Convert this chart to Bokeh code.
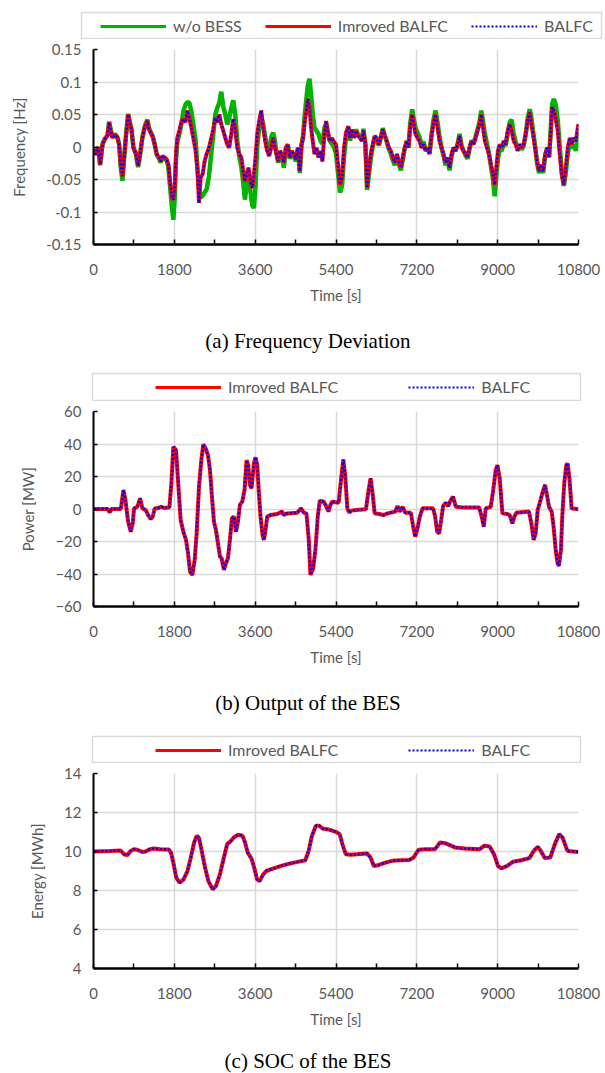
from bokeh.plotting import figure
from bokeh.models import Legend, LegendItem, FixedTicker, Range1d, Div
from bokeh.layouts import column, row
from bokeh.embed import file_html
from bokeh.resources import INLINE

FONT = "Lato"
GRAY = "#595959"
GRID = "#d9d9d9"
GREEN = "#00b400"
RED = "#ff0000"
BLUE = "#0000ff"

# ---------------- data ----------------
x_ticks = [0, 1800, 3600, 5400, 7200, 9000, 10800]
x_minor = [900, 2700, 4500, 6300, 8100, 9900]

freq_ticks = [-0.15, -0.1, -0.05, 0, 0.05, 0.1, 0.15]
freq_tick_labels = ["-0.15", "-0.1", "-0.05", "0", "0.05", "0.1", "0.15"]
power_ticks = [-60, -40, -20, 0, 20, 40, 60]
soc_ticks = [4, 6, 8, 10, 12, 14]

series_labels = ["w/o BESS", "Imroved BALFC", "BALFC"]
captions = ["(a) Frequency Deviation", "(b) Output of the BES", "(c) SOC of the BES"]

t_freq = [
    0, 52, 104, 148, 200, 252, 311, 348, 385, 422,
    474, 534, 571, 608, 645, 682, 719, 771, 815, 845,
    889, 941, 993, 1037, 1089, 1141, 1200, 1237, 1275, 1326,
    1363, 1408, 1460, 1497, 1534, 1586, 1630, 1667, 1704, 1749,
    1778, 1808, 1838, 1867, 1912, 1956, 2001, 2053, 2090, 2134,
    2179, 2223, 2275, 2312, 2349, 2386, 2430, 2475, 2519, 2571,
    2623, 2668, 2712, 2756, 2801, 2845, 2890, 2934, 2979, 3023,
    3068, 3112, 3157, 3201, 3246, 3290, 3335, 3372, 3409, 3453,
    3498, 3535, 3572, 3609, 3646, 3690, 3735, 3779, 3824, 3868,
    3912, 3957, 4001, 4038, 4076, 4113, 4150, 4194, 4239, 4283,
    4327, 4372, 4416, 4461, 4505, 4550, 4594, 4631, 4668, 4705,
    4742, 4772, 4809, 4846, 4883, 4920, 4965, 5009, 5054, 5098,
    5143, 5180, 5217, 5261, 5306, 5355, 5400, 5445, 5489, 5534,
    5579, 5623, 5675, 5712, 5757, 5802, 5846, 5891, 5936, 5980,
    6010, 6055, 6092, 6129, 6174, 6218, 6263, 6307, 6352, 6397,
    6441, 6486, 6531, 6575, 6620, 6664, 6709, 6754, 6798, 6843,
    6888, 6932, 6977, 7014, 7051, 7096, 7126, 7170, 7215, 7260,
    7304, 7349, 7393, 7438, 7483, 7527, 7572, 7617, 7661, 7706,
    7750, 7795, 7840, 7884, 7929, 7974, 8018, 8063, 8107, 8152,
    8197, 8241, 8286, 8331, 8375, 8420, 8464, 8509, 8554, 8598,
    8636, 8673, 8717, 8762, 8807, 8851, 8896, 8933, 8970, 9007,
    9045, 9089, 9134, 9178, 9223, 9268, 9312, 9357, 9402, 9446,
    9491, 9536, 9580, 9625, 9669, 9714, 9751, 9788, 9833, 9878,
    9922, 9967, 10012, 10056, 10101, 10145, 10175, 10212, 10250, 10294,
    10339, 10383, 10428, 10473, 10517, 10562, 10607, 10651, 10696, 10741,
    10785, 10800,
]

freq_improved = [
    -0.004, -0.011, 0.000, -0.027, 0.004, 0.012, 0.017, 0.038, 0.025, 0.014,
    0.019, 0.014, 0.004, -0.029, -0.045, -0.016, 0.014, 0.050, 0.035, 0.027,
    -0.001, -0.009, -0.029, -0.011, 0.014, 0.030, 0.040, 0.027, 0.022, 0.014,
    0.004, -0.011, -0.016, -0.022, -0.014, -0.016, -0.019, -0.027, -0.053, -0.078,
    -0.081, -0.063, -0.011, 0.014, 0.025, 0.038, 0.043, 0.038, 0.056, 0.045,
    0.030, 0.014, -0.006, -0.032, -0.086, -0.047, -0.042, -0.022, -0.011, -0.001,
    0.014, 0.027, 0.045, 0.038, 0.050, 0.035, 0.025, 0.014, 0.004, -0.001,
    0.020, 0.043, 0.027, -0.001, -0.011, -0.016, -0.037, -0.053, -0.042, -0.032,
    -0.053, -0.063, -0.042, -0.016, 0.020, 0.040, 0.056, 0.030, 0.009, -0.006,
    -0.014, -0.001, 0.014, -0.001, -0.011, -0.022, -0.006, -0.011, -0.024, -0.001,
    0.004, -0.016, -0.006, -0.011, -0.019, -0.001, -0.037, 0.004, 0.014, 0.040,
    0.056, 0.074, 0.061, 0.030, 0.009, -0.011, -0.001, -0.016, -0.006, -0.022,
    0.020, 0.040, 0.025, 0.009, 0.014, 0.008, 0.004, -0.027, -0.058, -0.047,
    -0.001, 0.022, 0.032, 0.014, 0.027, 0.014, 0.025, 0.017, 0.014, 0.009,
    0.025, 0.004, -0.063, -0.037, -0.011, 0.004, 0.017, 0.014, 0.004, 0.014,
    0.027, 0.017, 0.009, -0.001, -0.006, -0.016, -0.024, -0.011, -0.022, -0.032,
    -0.016, -0.001, 0.009, -0.001, 0.030, 0.050, 0.038, 0.020, 0.014, 0.009,
    -0.001, 0.004, -0.006, -0.001, -0.011, 0.017, 0.038, 0.050, 0.030, 0.009,
    -0.001, -0.011, -0.024, -0.016, -0.032, -0.011, -0.001, -0.006, 0.004, 0.017,
    -0.001, -0.006, -0.011, -0.016, -0.001, 0.009, 0.004, 0.014, 0.025, 0.035,
    0.050, 0.030, 0.009, -0.001, -0.011, -0.027, -0.042, -0.058, -0.032, -0.006,
    0.004, -0.001, 0.009, 0.004, 0.025, 0.035, 0.025, 0.009, 0.004, -0.006,
    0.004, -0.001, 0.004, 0.020, 0.040, 0.053, 0.035, 0.020, -0.001, -0.022,
    -0.037, -0.027, -0.037, -0.011, -0.001, -0.016, 0.014, 0.061, 0.056, 0.043,
    0.025, -0.011, -0.042, -0.058, -0.032, -0.001, 0.014, 0.004, 0.014, 0.009,
    0.030, 0.035,
]

freq_balfc = [
    -0.004, -0.011, 0.000, -0.027, 0.004, 0.012, 0.017, 0.038, 0.025, 0.014,
    0.019, 0.014, 0.004, -0.029, -0.045, -0.016, 0.014, 0.050, 0.035, 0.027,
    -0.001, -0.009, -0.029, -0.011, 0.014, 0.030, 0.040, 0.027, 0.022, 0.014,
    0.004, -0.011, -0.016, -0.022, -0.014, -0.016, -0.019, -0.027, -0.053, -0.078,
    -0.081, -0.063, -0.011, 0.014, 0.025, 0.038, 0.043, 0.038, 0.056, 0.045,
    0.030, 0.014, -0.006, -0.032, -0.086, -0.047, -0.042, -0.022, -0.011, -0.001,
    0.014, 0.027, 0.045, 0.038, 0.050, 0.035, 0.025, 0.014, 0.004, -0.001,
    0.020, 0.043, 0.027, -0.001, -0.011, -0.016, -0.037, -0.053, -0.042, -0.032,
    -0.053, -0.063, -0.042, -0.016, 0.020, 0.040, 0.056, 0.030, 0.009, -0.006,
    -0.014, -0.001, 0.014, -0.001, -0.011, -0.022, -0.006, -0.011, -0.024, -0.001,
    0.004, -0.016, -0.006, -0.011, -0.019, -0.001, -0.037, 0.004, 0.014, 0.040,
    0.056, 0.074, 0.061, 0.030, 0.009, -0.011, -0.001, -0.016, -0.006, -0.022,
    0.020, 0.040, 0.025, 0.009, 0.014, 0.008, 0.004, -0.027, -0.058, -0.047,
    -0.001, 0.022, 0.032, 0.014, 0.027, 0.014, 0.025, 0.017, 0.014, 0.009,
    0.025, 0.004, -0.063, -0.037, -0.011, 0.004, 0.017, 0.014, 0.004, 0.014,
    0.027, 0.017, 0.009, -0.001, -0.006, -0.016, -0.024, -0.011, -0.022, -0.032,
    -0.016, -0.001, 0.009, -0.001, 0.030, 0.050, 0.038, 0.020, 0.014, 0.009,
    -0.001, 0.004, -0.006, -0.001, -0.011, 0.017, 0.038, 0.050, 0.030, 0.009,
    -0.001, -0.011, -0.024, -0.016, -0.032, -0.011, -0.001, -0.006, 0.004, 0.017,
    -0.001, -0.006, -0.011, -0.016, -0.001, 0.009, 0.004, 0.014, 0.025, 0.035,
    0.050, 0.030, 0.009, -0.001, -0.011, -0.027, -0.042, -0.058, -0.032, -0.006,
    0.004, -0.001, 0.009, 0.004, 0.025, 0.035, 0.025, 0.009, 0.004, -0.006,
    0.004, -0.001, 0.004, 0.020, 0.040, 0.053, 0.035, 0.020, -0.001, -0.022,
    -0.037, -0.027, -0.037, -0.011, -0.001, -0.016, 0.014, 0.061, 0.056, 0.043,
    0.025, -0.011, -0.042, -0.058, -0.032, -0.001, 0.014, 0.004, 0.014, 0.009,
    0.030, 0.035,
]

freq_wo_bess = [
    -0.005, -0.012, 0.000, -0.028, 0.004, 0.013, 0.018, 0.039, 0.026, 0.015,
    0.020, 0.015, 0.004, -0.032, -0.052, -0.018, 0.014, 0.051, 0.036, 0.028,
    -0.001, -0.010, -0.031, -0.012, 0.015, 0.032, 0.042, 0.029, 0.023, 0.015,
    0.004, -0.012, -0.018, -0.024, -0.016, -0.018, -0.021, -0.030, -0.060, -0.095,
    -0.112, -0.080, -0.020, 0.008, 0.020, 0.035, 0.055, 0.066, 0.069, 0.068,
    0.055, 0.035, 0.010, -0.030, -0.060, -0.078, -0.075, -0.070, -0.065, -0.045,
    -0.010, 0.020, 0.050, 0.060, 0.068, 0.085, 0.062, 0.050, 0.035, 0.045,
    0.060, 0.072, 0.050, 0.010, -0.015, -0.030, -0.055, -0.081, -0.060, -0.040,
    -0.070, -0.090, -0.094, -0.060, 0.000, 0.030, 0.045, 0.035, 0.015, -0.002,
    -0.010, 0.015, 0.022, 0.010, -0.010, -0.024, -0.008, -0.013, -0.032, -0.004,
    0.002, -0.018, -0.010, -0.014, -0.022, -0.004, -0.040, 0.002, 0.018, 0.050,
    0.075, 0.095, 0.105, 0.080, 0.050, 0.030, 0.025, 0.020, 0.010, 0.005,
    0.030, 0.035, 0.020, 0.010, 0.005, 0.000, -0.010, -0.040, -0.070, -0.060,
    -0.015, 0.015, 0.030, 0.010, 0.022, 0.016, 0.027, 0.019, 0.016, 0.010,
    0.028, 0.004, -0.066, -0.045, -0.018, 0.000, 0.016, 0.012, 0.002, 0.014,
    0.029, 0.018, 0.008, -0.003, -0.010, -0.020, -0.028, -0.014, -0.026, -0.036,
    -0.019, -0.002, 0.009, -0.001, 0.035, 0.058, 0.045, 0.030, 0.022, 0.015,
    0.004, 0.008, -0.004, -0.002, -0.010, 0.018, 0.042, 0.056, 0.038, 0.015,
    -0.001, -0.014, -0.028, -0.020, -0.036, -0.014, -0.002, -0.006, 0.004, 0.020,
    0.002, -0.006, -0.013, -0.018, -0.002, 0.010, 0.006, 0.016, 0.028, 0.040,
    0.056, 0.040, 0.020, 0.005, -0.010, -0.030, -0.050, -0.076, -0.045, -0.018,
    -0.004, -0.006, 0.004, 0.002, 0.020, 0.038, 0.042, 0.020, 0.008, -0.002,
    0.002, -0.004, 0.002, 0.020, 0.045, 0.058, 0.045, 0.025, 0.002, -0.025,
    -0.040, -0.030, -0.040, -0.015, -0.004, -0.015, 0.018, 0.066, 0.074, 0.065,
    0.040, 0.000, -0.040, -0.060, -0.040, -0.010, 0.006, -0.002, 0.004, -0.006,
    0.010, 0.020,
]

t_power = [
    0, 311, 363, 400, 608, 667, 711, 771, 830, 874,
    904, 978, 1037, 1089, 1163, 1215, 1275, 1319, 1363, 1423,
    1512, 1571, 1690, 1734, 1778, 1838, 1882, 1941, 2001, 2060,
    2104, 2149, 2201, 2253, 2297, 2349, 2401, 2445, 2497, 2549,
    2594, 2638, 2682, 2727, 2771, 2816, 2853, 2905, 2949, 2994,
    3038, 3083, 3127, 3172, 3216, 3260, 3312, 3364, 3409, 3446,
    3483, 3520, 3572, 3609, 3646, 3683, 3720, 3764, 3794, 3831,
    3868, 3942, 4090, 4201, 4239, 4313, 4535, 4624, 4683, 4742,
    4794, 4831, 4891, 4942, 4994, 5039, 5128, 5187, 5232, 5276,
    5313, 5459, 5511, 5563, 5607, 5652, 5696, 5741, 5845, 6067,
    6126, 6171, 6215, 6260, 6363, 6452, 6549, 6719, 6771, 6823,
    6882, 6941, 7067, 7119, 7164, 7215, 7267, 7327, 7564, 7608,
    7653, 7697, 7742, 7786, 7845, 7897, 7956, 8008, 8068, 8216,
    8586, 8645, 8690, 8735, 8846, 8897, 8957, 8994, 9046, 9105,
    9216, 9268, 9327, 9372, 9416, 9698, 9750, 9802, 9846, 9891,
    9935, 9994, 10054, 10098, 10143, 10202, 10246, 10291, 10335, 10365,
    10409, 10439, 10483, 10528, 10558, 10602, 10646, 10800,
]

power_improved = [
    0, 0, -2, 0, 0, 11.7, 5.5, -7.8, -14, -8.8,
    0.4, 1.4, 6.6, 0.4, -0.6, -3.7, -6.2, -4.7, 0.4, 0.4,
    1.4, 0.6, 1, 15.8, 38.3, 36.3, 17.8, -6.8, -14, -19,
    -27, -38.5, -40.6, -31.4, -15, 13.7, 30, 39.8, 37.3, 33.2,
    24, 7.6, -7.8, -13, -21, -29.3, -30.3, -37.5, -33.4, -30.3,
    -19, -5.7, -4.7, -14, -7.8, 2.5, 4.5, 11.7, 30, 27,
    14.8, 12.7, 28, 31.8, 27, 9.6, -4.7, -16, -19, -13,
    -4.7, -3.7, -3.1, -1.6, -3.7, -2.7, -2.3, 0.4, -2.3, -2.7,
    -19, -40.6, -36.5, -25, -4.7, 5.1, 4.5, 1.4, -1.6, 2.5,
    4.5, 3.9, 17.8, 30.5, 20, 0.4, -2.3, -1, -0.6, -0.2,
    11.7, 18.9, 9.6, -2.7, -3.1, -3.7, -2.7, -1.6, 1.8, -1.6,
    1.4, -2.3, -2.3, -10.9, -17, -11.9, -4.7, 0.4, 0.4, -4.7,
    -14, -15, -6.8, 1.8, 3.9, 1.8, 5.5, 7.6, 1.4, 1,
    1, -4.7, -10.9, 0.4, 1.4, 10.7, 24, 27, 18.9, -2.7,
    -3.1, -3.7, -8.8, -4.7, -2.3, -1.6, -8.8, -19, -15, -0.6,
    3.5, 9.6, 14.8, 8.6, 1.4, -1.6, -10.9, -25, -33.4, -35,
    -25, -4.7, 15.8, 27, 28, 17.8, 0.4, -0.2,
]

power_balfc = [
    0, 0, -2, 0, 0, 11.7, 5.5, -7.8, -14, -8.8,
    0.4, 1.4, 6.6, 0.4, -0.6, -3.7, -6.2, -4.7, 0.4, 0.4,
    1.4, 0.6, 1, 15.8, 38.3, 36.3, 17.8, -6.8, -14, -19,
    -27, -38.5, -40.6, -31.4, -15, 13.7, 30, 39.8, 37.3, 33.2,
    24, 7.6, -7.8, -13, -21, -29.3, -30.3, -37.5, -33.4, -30.3,
    -19, -5.7, -4.7, -14, -7.8, 2.5, 4.5, 11.7, 30, 27,
    14.8, 12.7, 28, 31.8, 27, 9.6, -4.7, -16, -19, -13,
    -4.7, -3.7, -3.1, -1.6, -3.7, -2.7, -2.3, 0.4, -2.3, -2.7,
    -19, -40.6, -36.5, -25, -4.7, 5.1, 4.5, 1.4, -1.6, 2.5,
    4.5, 3.9, 17.8, 30.5, 20, 0.4, -2.3, -1, -0.6, -0.2,
    11.7, 18.9, 9.6, -2.7, -3.1, -3.7, -2.7, -1.6, 1.8, -1.6,
    1.4, -2.3, -2.3, -10.9, -17, -11.9, -4.7, 0.4, 0.4, -4.7,
    -14, -15, -6.8, 1.8, 3.9, 1.8, 5.5, 7.6, 1.4, 1,
    1, -4.7, -10.9, 0.4, 1.4, 10.7, 24, 27, 18.9, -2.7,
    -3.1, -3.7, -8.8, -4.7, -2.3, -1.6, -8.8, -19, -15, -0.6,
    3.5, 9.6, 14.8, 8.6, 1.4, -1.6, -10.9, -25, -33.4, -35,
    -25, -4.7, 15.8, 27, 28, 17.8, 0.4, -0.2,
]

t_soc = [
    0, 383, 604, 678, 752, 825, 899, 973, 1083, 1157,
    1253, 1341, 1489, 1673, 1725, 1784, 1843, 1916, 2005, 2093,
    2167, 2241, 2300, 2351, 2410, 2484, 2557, 2653, 2727, 2815,
    2904, 2977, 3051, 3125, 3221, 3317, 3375, 3434, 3523, 3589,
    3641, 3700, 3773, 3847, 3994, 4179, 4363, 4547, 4717, 4791,
    4864, 4953, 5026, 5100, 5233, 5395, 5483, 5542, 5616, 5726,
    5874, 6095, 6169, 6242, 6353, 6500, 6648, 6832, 7031, 7127,
    7237, 7385, 7606, 7716, 7827, 7937, 8048, 8269, 8601, 8697,
    8822, 8918, 9006, 9080, 9213, 9338, 9522, 9706, 9817, 9891,
    9950, 10053, 10171, 10274, 10370, 10444, 10554, 10800,
]

soc_improved = [
    10.0, 10.03, 10.05, 9.86, 9.81, 10.03, 10.12, 10.09, 9.98, 10.0,
    10.12, 10.15, 10.12, 10.1, 9.95, 9.35, 8.66, 8.4, 8.57, 9.0,
    9.69, 10.46, 10.81, 10.69, 10.03, 9.18, 8.49, 8.06, 8.23, 8.83,
    9.69, 10.38, 10.52, 10.72, 10.86, 10.81, 10.46, 9.95, 9.61, 9.09,
    8.57, 8.49, 8.8, 9.0, 9.12, 9.26, 9.38, 9.47, 9.55, 10.03,
    10.81, 11.32, 11.32, 11.18, 11.13, 11.01, 10.89, 10.38, 9.86, 9.83,
    9.86, 9.9, 9.69, 9.26, 9.31, 9.43, 9.52, 9.55, 9.57, 9.69,
    10.09, 10.12, 10.12, 10.46, 10.43, 10.33, 10.21, 10.15, 10.12, 10.29,
    10.26, 9.86, 9.26, 9.14, 9.26, 9.47, 9.55, 9.66, 10.07, 10.24,
    10.07, 9.66, 9.69, 10.38, 10.89, 10.72, 10.03, 9.98,
]

soc_balfc = [
    10.0, 10.03, 10.05, 9.86, 9.81, 10.03, 10.12, 10.09, 9.98, 10.0,
    10.12, 10.15, 10.12, 10.1, 9.95, 9.35, 8.66, 8.4, 8.57, 9.0,
    9.69, 10.46, 10.81, 10.69, 10.03, 9.18, 8.49, 8.06, 8.23, 8.83,
    9.69, 10.38, 10.52, 10.72, 10.86, 10.81, 10.46, 9.95, 9.61, 9.09,
    8.57, 8.49, 8.8, 9.0, 9.12, 9.26, 9.38, 9.47, 9.55, 10.03,
    10.81, 11.32, 11.32, 11.18, 11.13, 11.01, 10.89, 10.38, 9.86, 9.83,
    9.86, 9.9, 9.69, 9.26, 9.31, 9.43, 9.52, 9.55, 9.57, 9.69,
    10.09, 10.12, 10.12, 10.46, 10.43, 10.33, 10.21, 10.15, 10.12, 10.29,
    10.26, 9.86, 9.26, 9.14, 9.26, 9.47, 9.55, 9.66, 10.07, 10.24,
    10.07, 9.66, 9.69, 10.38, 10.89, 10.72, 10.03, 9.98,
]

# ---------------- styles ----------------
W = 603
STY_GREEN = dict(line_color=GREEN, line_width=4.5)
STY_RED = dict(line_color=RED, line_width=4)
STY_BLUE = dict(line_color=BLUE, line_width=2.4, line_dash="2 2")
LEG_GREEN = dict(line_color=GREEN, line_width=3)
LEG_RED = dict(line_color=RED, line_width=3)
LEG_BLUE = dict(line_color=BLUE, line_width=2, line_dash="2 2")


def main_fig(height, top, bottom, yr, yticks, ylabel, overrides=None):
    p = figure(width=W, height=height, output_backend="svg", toolbar_location=None,
               x_range=Range1d(0, 10800), y_range=Range1d(*yr),
               min_border_left=93, min_border_right=25,
               min_border_top=top, min_border_bottom=bottom)
    p.outline_line_color = None
    xa = p.xaxis[0]
    ya = p.yaxis[0]
    xa.ticker = FixedTicker(ticks=x_ticks, minor_ticks=x_minor)
    ya.ticker = FixedTicker(ticks=yticks, minor_ticks=[])
    if overrides:
        ya.major_label_overrides = overrides
    for ax in (xa, ya):
        ax.axis_line_color = "black"
        ax.major_tick_line_color = "black"
        ax.minor_tick_line_color = "black"
        ax.major_tick_line_width = 1.5
        ax.minor_tick_line_width = 1.5
        ax.major_tick_out = 0
        ax.minor_tick_out = 0
        ax.major_label_text_font = FONT
        ax.major_label_text_font_size = "15px"
        ax.major_label_text_color = GRAY
        ax.axis_label_text_font = FONT
        ax.axis_label_text_font_size = "15px"
        ax.axis_label_text_color = GRAY
        ax.axis_label_text_font_style = "normal"
    xa.axis_line_width = 2.5
    xa.major_tick_in = 5
    xa.minor_tick_in = 5
    xa.major_label_standoff = 19
    xa.axis_label = "Time [s]"
    xa.axis_label_standoff = 8
    ya.axis_line_width = 2
    ya.major_tick_in = 4
    ya.minor_tick_in = 0
    ya.major_label_standoff = 12
    ya.axis_label = ylabel
    ya.axis_label_standoff = 15
    for g in (p.xgrid[0], p.ygrid[0]):
        g.grid_line_color = GRID
        g.grid_line_width = 1.5
    return p


def legend_fig(height, top, left, right, series, loc, spacing):
    # a strip whose frame is the legend box; the series are drawn on the
    # same time axis but outside its (tiny) value window, only the legend shows
    p = figure(width=W, height=height, output_backend="svg", toolbar_location=None,
               x_axis_location=None, y_axis_location=None,
               x_range=Range1d(0, 10800), y_range=Range1d(1000, 1001),
               min_border_top=top, min_border_bottom=0,
               min_border_left=left, min_border_right=right)
    p.xgrid.visible = False
    p.ygrid.visible = False
    p.outline_line_color = GRID
    p.outline_line_width = 1.5
    items = []
    for label, t, v, sty in series:
        r = p.line(t, v, **sty)
        items.append(LegendItem(label=label, renderers=[r]))
    lg = Legend(items=items, orientation="horizontal", location=loc,
                spacing=spacing, padding=0, margin=0,
                border_line_color=None, background_fill_alpha=0,
                glyph_width=66, glyph_height=18, label_height=18,
                label_standoff=7, label_text_font=FONT,
                label_text_font_size="16px", label_text_color=GRAY)
    p.add_layout(lg)
    # wrap in its own row so its frame is not aligned with the chart frames
    return row(p, spacing=0)


def caption_div(text, height, pad_top):
    return Div(text=text, width=W, height=height, margin=0,
               styles={"font-family": "'Liberation Serif', serif",
                       "font-size": "21px", "line-height": "24px",
                       "text-align": "center", "color": "black",
                       "padding-top": f"{pad_top}px", "padding-left": "13px",
                       "box-sizing": "border-box"})


# ---------------- panel (a) ----------------
leg1 = legend_fig(39, 12, 81, 2,
                  [(series_labels[0], t_freq, freq_wo_bess, LEG_GREEN),
                   (series_labels[1], t_freq, freq_improved, LEG_RED),
                   (series_labels[2], t_freq, freq_balfc, LEG_BLUE)],
                  loc=(19, 4), spacing=23)
p1 = main_fig(268, 10, 63, (-0.15, 0.15), freq_ticks, "Frequency [Hz]",
              overrides={t: s for t, s in zip(freq_ticks, freq_tick_labels)})
p1.line(t_freq, freq_wo_bess, **STY_GREEN)
p1.line(t_freq, freq_improved, **STY_RED)
p1.line(t_freq, freq_balfc, **STY_BLUE)
d1 = caption_div(captions[0], 54, 22)

# ---------------- panel (b) ----------------
leg2 = legend_fig(40, 12, 92, 23,
                  [(series_labels[1], t_power, power_improved, LEG_RED),
                   (series_labels[2], t_power, power_balfc, LEG_BLUE)],
                  loc=(63, 5), spacing=70)
p2 = main_fig(270, 10, 65, (-60, 60), power_ticks, "Power [MW]")
p2.line(t_power, power_improved, **STY_RED)
p2.line(t_power, power_balfc, **STY_BLUE)
d2 = caption_div(captions[1], 60, 20)

# ---------------- panel (c) ----------------
leg3 = legend_fig(32, 5, 92, 23,
                  [(series_labels[1], t_soc, soc_improved, LEG_RED),
                   (series_labels[2], t_soc, soc_balfc, LEG_BLUE)],
                  loc=(63, 4), spacing=70)
p3 = main_fig(270, 10, 65, (4, 14), soc_ticks, "Energy [MWh]")
p3.line(t_soc, soc_improved, **STY_RED)
p3.line(t_soc, soc_balfc, **STY_BLUE)
d3 = caption_div(captions[2], 39, 16)

layout = column(leg1, p1, d1, leg2, p2, d2, leg3, p3, d3, spacing=0)
open("out.html", "w").write(file_html(layout, INLINE))
